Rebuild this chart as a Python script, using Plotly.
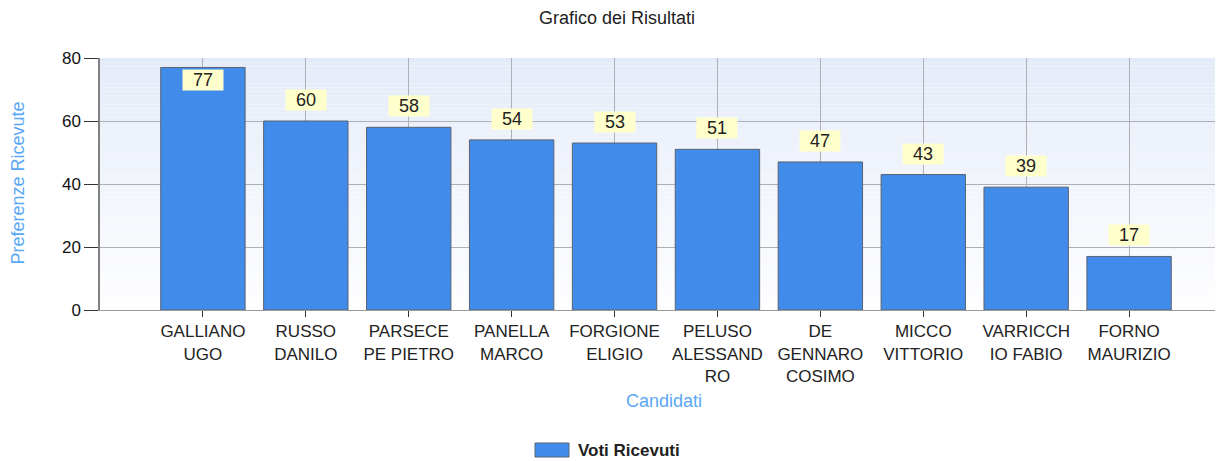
import plotly.graph_objects as go

# ---- data ----
candidates = ["GALLIANO UGO", "RUSSO DANILO", "PARSECEPE PIETRO", "PANELLA MARCO",
              "FORGIONE ELIGIO", "PELUSO ALESSANDRO", "DE GENNARO COSIMO",
              "MICCO VITTORIO", "VARRICCHIO FABIO", "FORNO MAURIZIO"]
tick_labels = ["GALLIANO<br>UGO", "RUSSO<br>DANILO", "PARSECE<br>PE PIETRO", "PANELLA<br>MARCO",
               "FORGIONE<br>ELIGIO", "PELUSO<br>ALESSAND<br>RO", "DE<br>GENNARO<br>COSIMO",
               "MICCO<br>VITTORIO", "VARRICCH<br>IO FABIO", "FORNO<br>MAURIZIO"]
votes = [77, 60, 58, 54, 53, 51, 47, 43, 39, 17]
y_ticks = [0, 20, 40, 60, 80]
series_name = "Voti Ricevuti"

FONT = "Liberation Sans, Arial, sans-serif"
BAR_COLOR = "#418BEB"
AXIS_TITLE_COLOR = "#5AA8F5"
GRID_COLOR = "#AFAFB6"
YMAX = 80

# page body has an 8px margin: figure is sized/positioned to compensate
W, H = 1225, 453
ML, MR, MT, MB = 92, 1, 50, 151
PW = W - ML - MR
PH = H - MT - MB


def px_x(sx):  # screen x -> paper x
    return (sx - 8 - ML) / PW


def px_y(sy):  # screen y -> paper y
    return (H - MB - (sy - 8)) / PH


fig = go.Figure()
fig.add_trace(go.Bar(
    x=candidates, y=votes, name=series_name,
    marker=dict(color=BAR_COLOR, line=dict(color="#5A6270", width=1)),
    width=0.82, showlegend=False,
))

# gradient plot background (bands)
n_bands = 60
top = (228, 235, 248)
bot = (254, 254, 255)
shapes = []
for i in range(n_bands):
    t = (i + 0.5) / n_bands
    c = tuple(round(bot[k] + (top[k] - bot[k]) * t) for k in range(3))
    shapes.append(dict(type="rect", xref="paper", yref="paper",
                       x0=0, x1=1, y0=i / n_bands, y1=(i + 1) / n_bands,
                       fillcolor="rgb(%d,%d,%d)" % c, line=dict(width=0), layer="below"))

# legend swatch (drawn manually to match the wide swatch)
shapes.append(dict(type="rect", xref="paper", yref="paper",
                   x0=px_x(535), x1=px_x(569), y0=px_y(457), y1=px_y(443),
                   fillcolor=BAR_COLOR, line=dict(color="#5A6270", width=1)))

annotations = []
for cat, v in zip(candidates, votes):
    label = "\u00a0\u00a0" + str(v) + "\u00a0\u00a0"
    inside = v > YMAX - 8
    annotations.append(dict(x=cat, y=v, xref="x", yref="y", text=label, showarrow=False,
                            yanchor="top" if inside else "bottom",
                            yshift=-2 if inside else 10, bgcolor="#FFFFCC", borderpad=0,
                            font=dict(family=FONT, size=18, color="#222222")))

annotations.append(dict(text="Candidati", xref="paper", yref="paper", x=px_x(664), y=px_y(401),
                        yanchor="middle", showarrow=False,
                        font=dict(family=FONT, size=18, color=AXIS_TITLE_COLOR)))
annotations.append(dict(text="Preferenze Ricevute", xref="paper", yref="paper",
                        x=px_x(17.5), y=px_y(183), xanchor="center", yanchor="middle",
                        textangle=-90, showarrow=False,
                        font=dict(family=FONT, size=18, color=AXIS_TITLE_COLOR)))
annotations.append(dict(text="<b>" + series_name + "</b>", xref="paper", yref="paper",
                        x=px_x(576), y=px_y(450), xanchor="left", yanchor="middle",
                        showarrow=False,
                        font=dict(family=FONT, size=17, color="#222222")))

fig.update_layout(
    width=W, height=H,
    margin=dict(l=ML, r=MR, t=MT, b=MB),
    paper_bgcolor="white", plot_bgcolor="rgba(0,0,0,0)",
    title=dict(text="Grafico dei Risultati", x=(617 - 8) / W, xanchor="center",
               y=1 - (18 - 8) / H, yanchor="middle", yref="container",
               font=dict(family=FONT, size=18, color="#222222")),
    shapes=shapes, annotations=annotations,
    showlegend=False,
)
fig.update_xaxes(
    type="category", range=[-1, 10], tickmode="array", tickvals=candidates, ticktext=tick_labels,
    showgrid=True, gridcolor=GRID_COLOR, gridwidth=1,
    showline=True, linecolor="#9A9A9A", linewidth=1,
    ticks="outside", ticklen=6, tickcolor="#333333",
    tickfont=dict(family=FONT, size=17, color="#222222"),
)
fig.update_yaxes(
    range=[0, YMAX], tickvals=y_ticks,
    showgrid=True, gridcolor=GRID_COLOR, gridwidth=1, zeroline=False,
    showline=True, linecolor="#808080", linewidth=1.5,
    ticks="outside", ticklen=14, tickcolor="#333333",
    tickfont=dict(family=FONT, size=17, color="#111111"),
)
fig.write_html("out.html")
